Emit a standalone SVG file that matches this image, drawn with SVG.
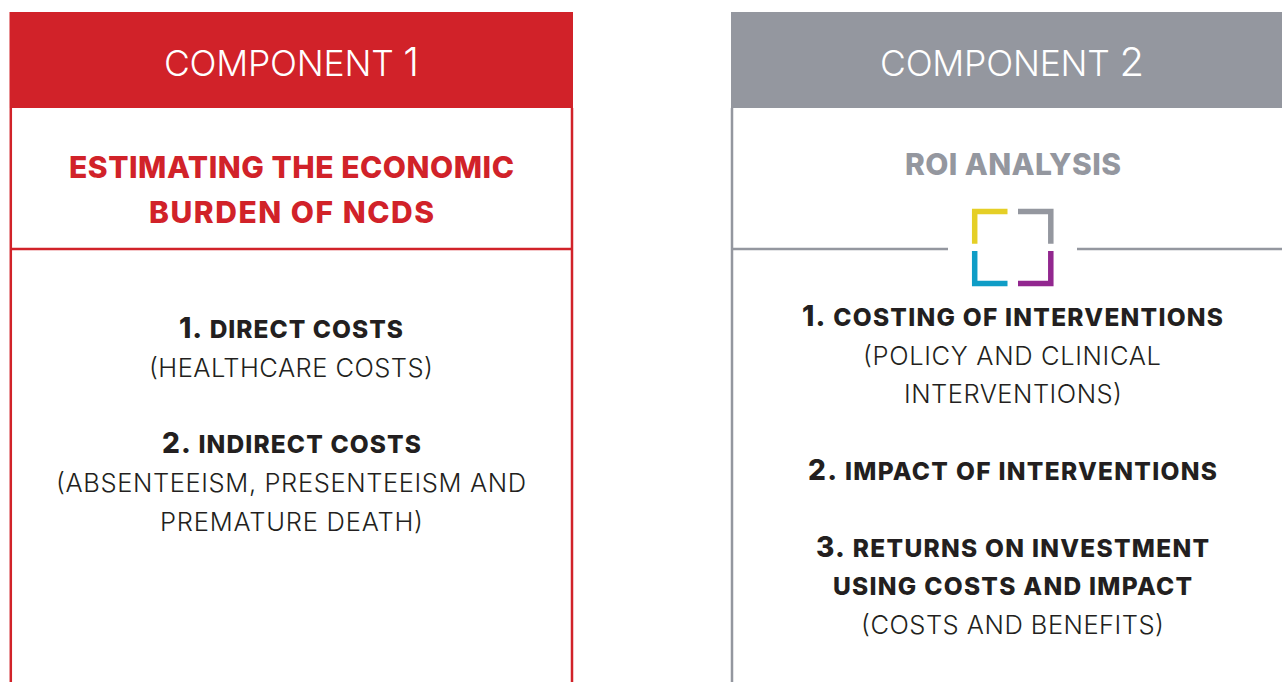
<svg xmlns="http://www.w3.org/2000/svg" width="1282" height="682" viewBox="0 0 1282 682">
<style>
text{font-family:"Inter","Liberation Sans",sans-serif;text-anchor:middle}
.h{font-size:35.5px;fill:#fff;font-weight:300}
.n{font-size:40px}
.t{font-size:30px;font-weight:800}
.b{font-size:24.5px;font-weight:800;fill:#231f20}
.bn{font-size:28px}
.l{font-size:25.5px;font-weight:300;fill:#231f20}
</style>
<rect width="1282" height="682" fill="#fff"/>
<g id="component1">
<rect x="9.500" y="12" width="563.500" height="96" fill="#d12229"/>
<path d="M10.800 108V682M572 108V682M11 249H572" fill="none" stroke="#d12229" stroke-width="2.500"/>
<text class="h" x="291.500" y="76" textLength="255">COMPONENT <tspan class="n">1</tspan></text>
<text class="t" x="291.500" y="178" fill="#d12229" textLength="445">ESTIMATING THE ECONOMIC</text>
<text class="t" x="291.500" y="223" fill="#d12229" textLength="285">BURDEN OF NCDS</text>
<text class="b" x="291" y="338" textLength="224"><tspan class="bn">1.</tspan> DIRECT COSTS</text>
<text class="l" x="291" y="377" textLength="284">(HEALTHCARE COSTS)</text>
<text class="b" x="291.500" y="453" textLength="259"><tspan class="bn">2.</tspan> INDIRECT COSTS</text>
<text class="l" x="291" y="492" textLength="470">(ABSENTEEISM, PRESENTEEISM AND</text>
<text class="l" x="291.500" y="531" textLength="263">PREMATURE DEATH)</text>
</g>
<g id="component2">
<rect x="731" y="12" width="551" height="96" fill="#94979f"/>
<path d="M732 108V682M733 249H948M1077 249H1282" fill="none" stroke="#94979f" stroke-width="2.500"/>
<text class="h" x="1012" y="76" textLength="264">COMPONENT <tspan class="n">2</tspan></text>
<text class="t" x="1013" y="175" fill="#94979f" textLength="216">ROI ANALYSIS</text>
<path d="M1007.500 211.500H974.700V243.700" fill="none" stroke="#e5cf26" stroke-width="5.500"/>
<path d="M1018 211.500H1050.800V243.700" fill="none" stroke="#94979f" stroke-width="5.500"/>
<path d="M974.700 251V283.500H1007.500" fill="none" stroke="#0f9dc6" stroke-width="5.500"/>
<path d="M1050.800 251V283.500H1018" fill="none" stroke="#92278f" stroke-width="5.500"/>
<text class="b" x="1012.500" y="326" textLength="421"><tspan class="bn">1.</tspan> COSTING OF INTERVENTIONS</text>
<text class="l" x="1012" y="365" textLength="298">(POLICY AND CLINICAL</text>
<text class="l" x="1013" y="403" textLength="218">INTERVENTIONS)</text>
<text class="b" x="1012.500" y="480" textLength="409"><tspan class="bn">2.</tspan> IMPACT OF INTERVENTIONS</text>
<text class="b" x="1012.500" y="557" textLength="393"><tspan class="bn">3.</tspan> RETURNS ON INVESTMENT</text>
<text class="b" x="1012.500" y="595" textLength="359">USING COSTS AND IMPACT</text>
<text class="l" x="1012.500" y="634" textLength="303">(COSTS AND BENEFITS)</text>
</g>
</svg>
